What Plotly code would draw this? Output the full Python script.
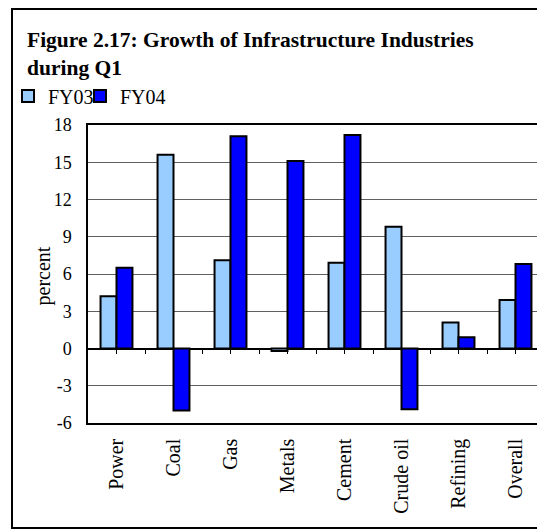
import plotly.graph_objects as go

categories = ["Power", "Coal", "Gas", "Metals", "Cement", "Crude oil", "Refining", "Overall"]
fy03 = [4.2, 15.6, 7.1, -0.2, 6.9, 9.8, 2.1, 3.9]
fy04 = [6.5, -5.0, 17.1, 15.1, 17.2, -4.9, 0.9, 6.8]
y_ticks = [-6, -3, 0, 3, 6, 9, 12, 15, 18]
y_tick_text = ["-6", "-3", "0", "3", "6", "9", "12", "15", "18"]

SERIF = "Liberation Serif, Times New Roman, serif"

# the page body adds an 8px margin, so the figure is drawn 8px smaller
W, H = 537, 523
L, T, B, R = 80, 117, 108, 1
PW, PH = W - L - R, H - T - B


def px_x(x):
    return (x - L) / PW


def px_y(y):
    return (H - B - y) / PH


fig = go.Figure()
fig.add_trace(go.Bar(x=categories, y=fy03, name="FY03", legend="legend",
                     marker={"color": "#99CCFF", "line": {"color": "black", "width": 2}}))
fig.add_trace(go.Bar(x=categories, y=fy04, name="FY04", legend="legend2",
                     marker={"color": "#0000FF", "line": {"color": "black", "width": 2}}))
# empty trace so the zero-line tick axis gets drawn
fig.add_trace(go.Scatter(x=[], y=[], xaxis="x2", showlegend=False, hoverinfo="skip"))

legend_style = {
    "xref": "container", "yref": "container",
    "xanchor": "left", "yanchor": "middle",
    "y": 1 - 88 / H,
    "font": {"family": SERIF, "size": 20},
    "bgcolor": "rgba(0,0,0,0)",
}

fig.update_layout(
    width=W,
    height=H,
    margin={"l": L, "r": R, "t": T, "b": B, "autoexpand": False},
    paper_bgcolor="white",
    plot_bgcolor="white",
    barmode="group",
    bargap=0.44,
    bargroupgap=0,
    font={"family": SERIF, "size": 18, "color": "black"},
    legend={**legend_style, "x": 0 / W},
    legend2={**legend_style, "x": 72 / W},
    showlegend=True,
)

fig.update_xaxes(
    range=[-0.5, 7.5],
    tickangle=-90,
    showline=True,
    linecolor="black",
    linewidth=1.5,
    mirror=True,
    ticks="",
    ticklabelstandoff=6,
    tickfont={"size": 20},
    showgrid=False,
    automargin=False,
)
fig.update_yaxes(
    range=[-6, 18],
    tickvals=y_ticks,
    ticktext=y_tick_text,
    showgrid=True,
    gridcolor="#606060",
    gridwidth=1,
    zeroline=True,
    zerolinecolor="black",
    zerolinewidth=1.5,
    showline=True,
    linecolor="black",
    linewidth=1.5,
    mirror=True,
    ticklabelstandoff=11,
    automargin=False,
)

# small ticks along the zero line
fig.update_layout(
    xaxis2={
        "overlaying": "x",
        "anchor": "free",
        "position": 0.25,
        "side": "bottom",
        "range": [-0.5, 7.5],
        "tickmode": "array",
        "tickvals": [i * 0.5 for i in range(2 * len(categories))],
        "ticks": "outside",
        "ticklen": 4,
        "tickcolor": "black",
        "showticklabels": False,
        "showgrid": False,
        "showline": False,
        "zeroline": False,
        "automargin": False,
    }
)

fig.add_annotation(
    text="<b>Figure 2.17: Growth of Infrastructure Industries<br>during Q1</b>",
    xref="paper", yref="paper", x=px_x(17), y=px_y(18),
    xanchor="left", yanchor="top", align="left", showarrow=False,
    font={"family": SERIF, "size": 21.5},
)

fig.add_annotation(
    text="percent", textangle=-90, xref="paper", yref="paper",
    x=px_x(34.5), y=px_y(268), xanchor="center", yanchor="middle",
    showarrow=False, font={"family": SERIF, "size": 20},
)

# outer frame
fig.add_shape(
    type="rect", xref="paper", yref="paper",
    x0=px_x(4), x1=px_x(546), y0=px_y(520), y1=px_y(1),
    line={"color": "black", "width": 2},
)

fig.write_html("out.html")
